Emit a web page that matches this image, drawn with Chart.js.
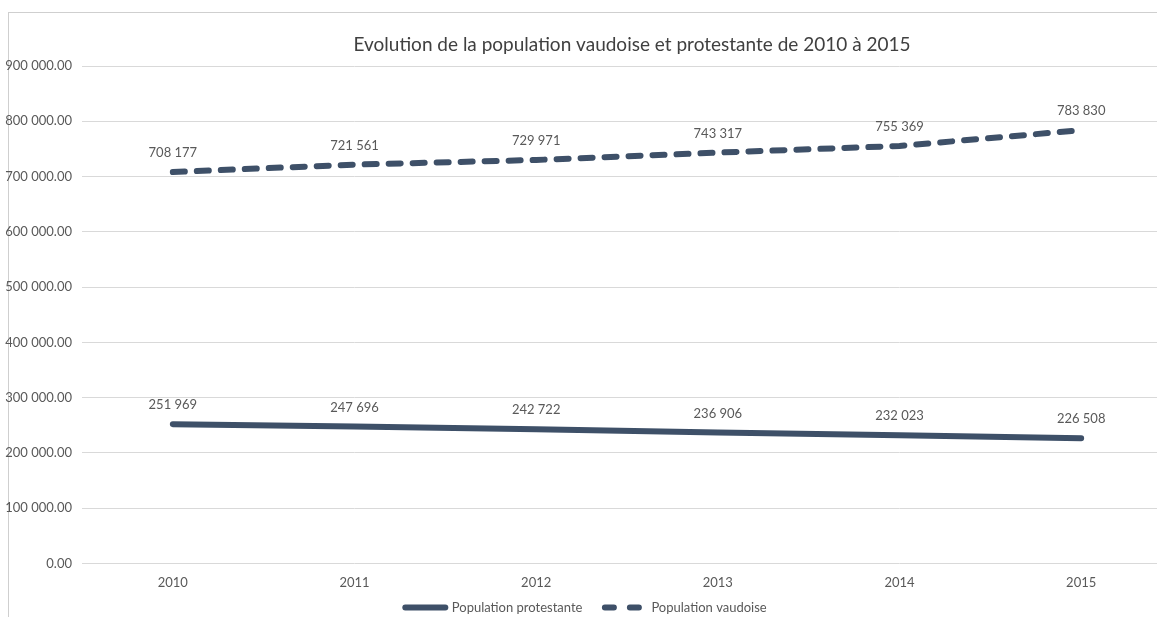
<!DOCTYPE html>
<html>
<head>
<meta charset="utf-8">
<script src="https://cdn.jsdelivr.net/npm/chart.js@4/dist/chart.umd.min.js"></script>
<style>
  html, body { margin: 0; padding: 0; background: #fff; }
  #wrap { position: relative; width: 1157px; height: 617px; overflow: hidden; }
  #frame { position: absolute; left: 8px; top: 12px; width: 1160px; height: 620px;
           border-left: 1px solid #cfcfcf; border-top: 1px solid #cfcfcf; }
  /* the plot runs past the right edge of the screenshot, so the canvas is a bit larger */
  #chart { position: absolute; left: 0; top: 0; }
</style>
</head>
<body>
<div id="wrap">
  <div id="frame"></div>
  <canvas id="chart" width="1172" height="624"></canvas>
</div>
<script>
const years = ['2010', '2011', '2012', '2013', '2014', '2015'];
const protestants = [251969, 247696, 242722, 236906, 232023, 226508];
const vaudois = [708177, 721561, 729971, 743317, 755369, 783830];
const yTicks = [0, 100000, 200000, 300000, 400000, 500000, 600000, 700000, 800000, 900000];
const chartTitle = 'Evolution de la population vaudoise et protestante de 2010 à 2015';

const lineColor = '#3e5068';
const textColor = '#595959';
const fontFamily = 'Lato, "Open Sans", sans-serif';

// thousands with a space, like "708 177"
function spaced(n) {
    return String(n).replace(/\B(?=(\d{3})+(?!\d))/g, ' ');
}

// value above each point + title centred on the plot area
const valueLabels = {
    id: 'valueLabels',
    afterDatasetsDraw(chart) {
        const ctx = chart.ctx;
        const area = chart.chartArea;
        ctx.save();
        ctx.textAlign = 'center';
        ctx.textBaseline = 'middle';

        ctx.font = '19px ' + fontFamily;
        ctx.fillStyle = '#404040';
        ctx.fillText(chartTitle, (area.left + area.right) / 2 + 5, 45);

        ctx.font = '13px ' + fontFamily;
        ctx.fillStyle = textColor;
        chart.data.datasets.forEach((ds, i) => {
            chart.getDatasetMeta(i).data.forEach((pt, j) => {
                ctx.fillText(spaced(ds.data[j]), pt.x, pt.y - 19);
            });
        });
        ctx.restore();
    }
};

new Chart(document.getElementById('chart'), {
    type: 'line',
    data: {
        labels: years,
        datasets: [{
            label: 'Population protestante',
            data: protestants,
            borderColor: lineColor,
            backgroundColor: lineColor,
            borderWidth: 6,
            borderCapStyle: 'round',
            pointRadius: 0,
            tension: 0
        }, {
            label: 'Population vaudoise',
            data: vaudois,
            borderColor: lineColor,
            backgroundColor: lineColor,
            borderWidth: 6,
            borderDash: [12, 12],
            borderCapStyle: 'round',
            pointRadius: 0,
            tension: 0
        }]
    },
    options: {
        responsive: false,
        animation: false,
        layout: { padding: { left: 0, right: 0, top: 66, bottom: 0 } },
        plugins: {
            title: { display: false },
            legend: {
                position: 'bottom',
                labels: {
                    usePointStyle: true,
                    pointStyle: 'line',
                    pointStyleWidth: 40,
                    boxHeight: 6,
                    padding: 6,
                    color: textColor,
                    font: { family: fontFamily, size: 13 },
                    generateLabels(chart) {
                        const items = Chart.defaults.plugins.legend.labels.generateLabels(chart);
                        items.forEach((item, i) => {
                            const ds = chart.data.datasets[item.datasetIndex];
                            item.lineDash = ds.borderDash ? [9, 16] : [];
                            item.lineWidth = 6;
                            item.lineCap = 'round';
                            item.fontColor = textColor;
                            // wider gap between the two entries
                            if (i < items.length - 1) item.text += '\u2003  ';
                        });
                        return items;
                    }
                }
            },
            tooltip: { enabled: false }
        },
        scales: {
            x: {
                offset: true,
                grid: { display: false },
                border: { display: false },
                ticks: { color: textColor, font: { family: fontFamily, size: 13 }, padding: 4 }
            },
            y: {
                min: yTicks[0],
                max: yTicks[yTicks.length - 1],
                afterFit(scale) { scale.width = 82; },
                afterBuildTicks(scale) { scale.ticks = yTicks.map(v => ({ value: v })); },
                grid: { color: '#d9d9d9', drawTicks: false },
                border: { display: false },
                ticks: {
                    color: textColor,
                    padding: 10,
                    font: { family: fontFamily, size: 13 },
                    callback: v => spaced(Math.floor(v)) + '.00'
                }
            }
        }
    },
    plugins: [valueLabels]
});
</script>
</body>
</html>
